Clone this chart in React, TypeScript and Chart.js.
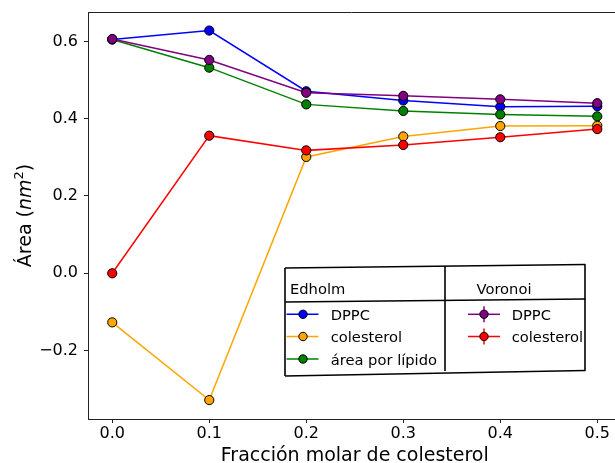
import React, { useEffect, useRef } from "react";
import { Chart, registerables } from "chart.js";

Chart.register(...registerables);

const xValues = [0, 0.1, 0.2, 0.3, 0.4, 0.5];
const edholmDPPC = [0.605, 0.628, 0.471, 0.447, 0.431, 0.432];
const edholmChol = [-0.127, -0.328, 0.301, 0.354, 0.381, 0.382];
const edholmArea = [0.605, 0.532, 0.437, 0.420, 0.411, 0.406];
const voronoiDPPC = [0.606, 0.552, 0.467, 0.459, 0.450, 0.440];
const voronoiChol = [0.0, 0.356, 0.318, 0.332, 0.352, 0.373];

const xTicks = [0, 0.1, 0.2, 0.3, 0.4, 0.5];
const yTicks = [-0.2, 0, 0.2, 0.4, 0.6];

const FONT = "DejaVu Sans";

const pts = (ys: number[]) => xValues.map((x, i) => ({ x, y: ys[i] }));

const mkDs = (label: string, ys: number[], color: string, order: number) => ({
  label,
  data: pts(ys),
  borderColor: color,
  backgroundColor: color,
  borderWidth: 1.5,
  pointRadius: 4.6,
  pointBorderWidth: 1,
  pointBorderColor: "#000",
  pointBackgroundColor: color,
  showLine: true,
  order,
  tension: 0,
});

const framePlugin = {
  id: "frame",
  afterDraw(chart: any) {
    const ctx = chart.ctx;
    const a = chart.chartArea;
    ctx.save();
    ctx.strokeStyle = "#222";
    ctx.lineWidth = 1;
    ctx.beginPath();
    ctx.moveTo(a.left, a.top + 0.5);
    ctx.lineTo(chart.width, a.top + 0.5);
    ctx.stroke();
    ctx.beginPath();
    ctx.moveTo(a.right - 1, a.bottom + 0.5);
    ctx.lineTo(chart.width, a.bottom + 0.5);
    ctx.stroke();

    // x-axis title
    ctx.fillStyle = "#000";
    ctx.font = `19px "${FONT}"`;
    ctx.textAlign = "center";
    ctx.textBaseline = "alphabetic";
    const xs = chart.scales.x;
    const xc = (xs.getPixelForValue(-0.025) + xs.getPixelForValue(0.525)) / 2;
    ctx.fillText("Fracción molar de colesterol", xc, 461);

    // y-axis title with italic and superscript
    ctx.translate(31, (a.top + a.bottom) / 2);
    ctx.rotate(-Math.PI / 2);
    const parts = [
      { t: "Área (", f: `19px "${FONT}"`, dy: 0 },
      { t: "nm", f: `italic 19px "${FONT}"`, dy: 0 },
      { t: "2", f: `13px "${FONT}"`, dy: -8 },
      { t: ")", f: `19px "${FONT}"`, dy: 0 },
    ];
    let total = 0;
    for (const p of parts) {
      ctx.font = p.f;
      total += ctx.measureText(p.t).width;
    }
    let x = -total / 2;
    ctx.textAlign = "left";
    for (const p of parts) {
      ctx.font = p.f;
      ctx.fillText(p.t, x, p.dy);
      x += ctx.measureText(p.t).width;
    }
    ctx.restore();

    // Legend table
    ctx.save();
    ctx.strokeStyle = "#000";
    ctx.lineWidth = 1.6;
    const line = (x1: number, y1: number, x2: number, y2: number) => {
      ctx.beginPath();
      ctx.moveTo(x1, y1);
      ctx.lineTo(x2, y2);
      ctx.stroke();
    };
    line(285, 268, 585.5, 264.5);
    line(285, 376, 585.5, 370.5);
    line(285, 268, 285, 376);
    line(585, 264.5, 585, 370.5);
    line(285, 302, 585.5, 299);
    line(445, 266, 445, 371);

    ctx.fillStyle = "#000";
    ctx.font = `14.7px "${FONT}"`;
    ctx.textBaseline = "alphabetic";
    ctx.textAlign = "left";
    ctx.fillText("Edholm", 290, 293.5);
    ctx.fillText("Voronoi", 476.5, 293.5);

    const entry = (
      lx1: number,
      lx2: number,
      mx: number,
      y: number,
      color: string,
      text: string,
      tx: number,
      err: boolean
    ) => {
      ctx.strokeStyle = color;
      ctx.lineWidth = 1.5;
      line(lx1, y, lx2, y);
      if (err) line(mx, y - 8, mx, y + 8);
      ctx.beginPath();
      ctx.arc(mx, y, 4.2, 0, Math.PI * 2);
      ctx.fillStyle = color;
      ctx.fill();
      ctx.strokeStyle = "#000";
      ctx.lineWidth = 1;
      ctx.stroke();
      ctx.fillStyle = "#000";
      ctx.fillText(text, tx, y + 5.5);
    };
    entry(286.5, 318.5, 303, 314.3, "#0000ff", "DPPC", 330.7, false);
    entry(286.5, 318.5, 303, 336.5, "#ffa500", "colesterol", 330.7, false);
    entry(286.5, 318.5, 303, 359, "#008000", "área por lípido", 330.7, false);
    entry(468, 500, 484, 314.3, "#800080", "DPPC", 511.7, true);
    entry(468, 500, 484, 336.5, "#ff0000", "colesterol", 511.7, true);
    ctx.restore();
  },
};

export default function App() {
  const ref = useRef<HTMLCanvasElement | null>(null);
  useEffect(() => {
    if (!ref.current) return;
    const chart = new Chart(ref.current, {
      type: "line",
      data: {
        datasets: [
          mkDs("DPPC Edholm", edholmDPPC, "#0000ff", 5),
          mkDs("colesterol Edholm", edholmChol, "#ffa500", 4),
          mkDs("área por lípido", edholmArea, "#008000", 3),
          mkDs("DPPC Voronoi", voronoiDPPC, "#800080", 2),
          mkDs("colesterol Voronoi", voronoiChol, "#ff0000", 1),
        ] as any,
      },
      options: {
        responsive: false,
        animation: false,
        clip: false,
        layout: { padding: { top: 12, left: 0, right: 0, bottom: 0 } },
        plugins: {
          legend: { display: false },
          tooltip: { enabled: false },
        },
        scales: {
          x: {
            type: "linear",
            min: -0.025,
            max: 0.5125,
            afterFit: (s: any) => {
              s.height = 44;
              s.paddingLeft = 0;
              s.paddingRight = 0;
            },
            afterBuildTicks: (s: any) => {
              s.ticks = xTicks.map((v) => ({ value: v }));
            },
            grid: {
              display: true,
              drawOnChartArea: false,
              drawTicks: true,
              tickLength: 4,
              color: "#222",
            },
            border: { display: true, color: "#222", width: 1 },
            ticks: {
              color: "#000",
              padding: 1,
              maxRotation: 0,
              font: { family: FONT, size: 16 },
              callback: (v: any) => Number(v).toFixed(1).replace("-", "\u2212"),
            },
          },
          y: {
            type: "linear",
            min: -0.377,
            max: 0.676,
            afterFit: (s: any) => {
              s.width = 88;
              s.paddingTop = 0;
              s.paddingBottom = 0;
            },
            afterBuildTicks: (s: any) => {
              s.ticks = yTicks.map((v) => ({ value: v }));
            },
            grid: {
              display: true,
              drawOnChartArea: false,
              drawTicks: true,
              tickLength: 4,
              color: "#222",
            },
            border: { display: true, color: "#222", width: 1 },
            ticks: {
              color: "#000",
              padding: 6,
              font: { family: FONT, size: 16 },
              callback: (v: any) => Number(v).toFixed(1).replace("-", "\u2212"),
            },
          },
        },
      },
      plugins: [framePlugin],
    });
    return () => chart.destroy();
  }, []);
  return (
    <canvas
      ref={ref}
      width={615}
      height={463}
      style={{ position: "absolute", left: 0, top: 0, width: 615, height: 463, background: "#fff" }}
    />
  );
}
